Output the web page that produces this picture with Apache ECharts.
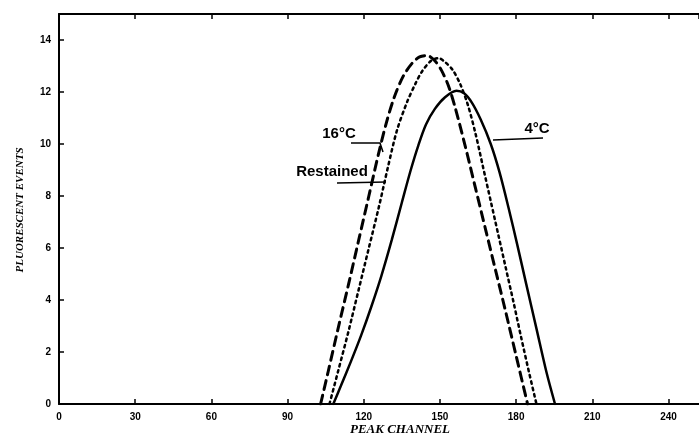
<!DOCTYPE html>
<html>
<head>
<meta charset="utf-8">
<script src="https://cdn.jsdelivr.net/npm/echarts@6/dist/echarts.min.js"></script>
<style>
html, body { margin: 0; padding: 0; background: #fff; }
#chart { width: 699px; height: 440px; }
</style>
</head>
<body>
<div id="chart"></div>
<script>
// values: [peak channel, fluorescent events]
var data16C = [[103,0],[106,1.25],[110,2.95],[114,4.6],[118,6.3],[122,8.0],[126,9.7],[129,10.85],[132,11.8],[135.5,12.6],[139,13.1],[142,13.35],[145,13.4],[148,13.2],[150.5,12.85],[153.3,12.25],[156,11.4],[160,9.9],[164,8.3],[168,6.7],[172,5.1],[176,3.5],[180,1.85],[184.5,0]];
var dataRestained = [[106.5,0],[110,1.3],[114,2.8],[118,4.4],[122,6.0],[126,7.6],[129.5,9.1],[133,10.5],[137,11.6],[140.5,12.35],[143,12.8],[146.5,13.2],[149.5,13.3],[152,13.15],[155,12.85],[158,12.3],[161,11.5],[164,10.4],[167,9.1],[170,7.8],[173,6.5],[176,5.2],[179,3.9],[182,2.55],[185,1.25],[188,0]];
var data4C = [[108,0],[111,0.7],[115,1.65],[119,2.65],[123,3.75],[127,4.95],[131,6.3],[135,7.75],[138.5,9.0],[141.5,9.95],[144.5,10.75],[148,11.35],[152,11.8],[156.5,12.05],[159.5,11.95],[162.5,11.6],[166,10.95],[170,10.0],[173.5,8.9],[177,7.55],[180.5,6.1],[184,4.6],[188,2.9],[192,1.2],[195.3,0]];

var xTicks = [0, 30, 60, 90, 120, 150, 180, 210, 240];
var yTicks = [0, 2, 4, 6, 8, 10, 12, 14];

var chart = echarts.init(document.getElementById('chart'));

var labelFont = { color: '#000', fontFamily: 'Liberation Sans', fontWeight: 'bold', fontSize: 10 };
var axisLine = { show: true, lineStyle: { color: '#000', width: 2 } };
var tick = { show: true, inside: true, length: 5, lineStyle: { color: '#000', width: 1.5 } };

function lineSeries(name, data, type, width) {
    return {
        name: name,
        type: 'line',
        data: data,
        smooth: 0.3,
        symbol: 'none',
        lineStyle: { color: '#000', width: width, type: type, cap: 'round' }
    };
}

var option = {
    animation: false,
    backgroundColor: '#fff',
    grid: { left: 59, right: 0, top: 14, bottom: 36 },
    xAxis: [{
        type: 'value',
        min: 0, max: 252, interval: 30,
        axisLine: axisLine,
        axisTick: tick,
        splitLine: { show: false },
        axisLabel: Object.assign({
            margin: 8,
            showMaxLabel: false,
            formatter: function (v) { return xTicks.indexOf(v) >= 0 ? v : ''; }
        }, labelFont)
    }, {
        type: 'value',
        position: 'top',
        min: 0, max: 252, interval: 30,
        axisLine: axisLine,
        axisTick: tick,
        splitLine: { show: false },
        axisLabel: { show: false }
    }],
    yAxis: {
        type: 'value',
        min: 0, max: 15, interval: 2,
        axisLine: axisLine,
        axisTick: tick,
        splitLine: { show: false },
        axisLabel: Object.assign({
            margin: 8,
            showMaxLabel: false,
            formatter: function (v) { return yTicks.indexOf(v) >= 0 ? v : ''; }
        }, labelFont)
    },
    series: [
        lineSeries('16°C', data16C, [9, 6], 3),
        lineSeries('Restained', dataRestained, [2.5, 4], 2.5),
        lineSeries('4°C', data4C, 'solid', 2.5)
    ],
    graphic: [
        // axis titles
        { type: 'text', x: 400, y: 430, style: { text: 'PEAK CHANNEL', fill: '#000', font: 'italic bold 13px "Liberation Serif"', align: 'center', verticalAlign: 'middle' } },
        { type: 'text', x: 20, y: 210, rotation: Math.PI / 2, style: { text: 'PLUORESCENT EVENTS', fill: '#000', font: 'italic bold 11px "Liberation Serif"', align: 'center', verticalAlign: 'middle' } },
        // curve annotations
        { type: 'text', x: 339, y: 134, style: { text: '16°C', fill: '#000', font: 'bold 15px "Liberation Sans"', align: 'center', verticalAlign: 'middle' } },
        { type: 'polyline', shape: { points: [[351, 143], [380, 143], [383, 152]] }, style: { stroke: '#000', lineWidth: 1.5, fill: null } },
        { type: 'text', x: 332, y: 172, style: { text: 'Restained', fill: '#000', font: 'bold 15px "Liberation Sans"', align: 'center', verticalAlign: 'middle' } },
        { type: 'line', shape: { x1: 337, y1: 183, x2: 386, y2: 182 }, style: { stroke: '#000', lineWidth: 1.5 } },
        { type: 'text', x: 537, y: 129, style: { text: '4°C', fill: '#000', font: 'bold 15px "Liberation Sans"', align: 'center', verticalAlign: 'middle' } },
        { type: 'line', shape: { x1: 493, y1: 140, x2: 543, y2: 138 }, style: { stroke: '#000', lineWidth: 1.5 } }
    ]
};

chart.setOption(option);
</script>
</body>
</html>
